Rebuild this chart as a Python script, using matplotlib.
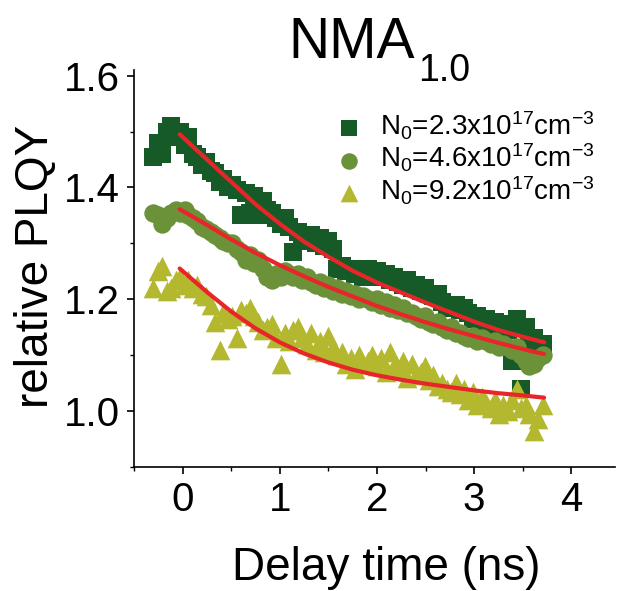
import matplotlib
matplotlib.use("Agg")
import matplotlib.pyplot as plt
from matplotlib.ticker import MultipleLocator

plt.rcParams['font.family'] = ['Liberation Sans', 'DejaVu Sans']
plt.rcParams['mathtext.fontset'] = 'custom'
plt.rcParams['mathtext.rm'] = 'Liberation Sans'
plt.rcParams['mathtext.it'] = 'Liberation Sans:italic'
plt.rcParams['mathtext.bf'] = 'Liberation Sans:bold'

# ---- data ----
time_ns = [-0.30, -0.25, -0.21, -0.16, -0.12, -0.07, -0.03, 0.02, 0.06, 0.11,
           0.15, 0.20, 0.24, 0.29, 0.33, 0.38, 0.42, 0.47, 0.51, 0.56,
           0.60, 0.65, 0.69, 0.74, 0.78, 0.83, 0.87, 0.92, 0.96, 1.01,
           1.05, 1.10, 1.14, 1.19, 1.23, 1.28, 1.32, 1.37, 1.41, 1.46,
           1.50, 1.55, 1.59, 1.64, 1.68, 1.73, 1.77, 1.82, 1.86, 1.91,
           1.95, 2.00, 2.04, 2.09, 2.13, 2.18, 2.22, 2.27, 2.31, 2.36,
           2.40, 2.45, 2.49, 2.54, 2.58, 2.63, 2.67, 2.72, 2.76, 2.81,
           2.85, 2.90, 2.94, 2.99, 3.03, 3.08, 3.12, 3.17, 3.21, 3.26,
           3.30, 3.35, 3.39, 3.44, 3.48, 3.53, 3.57, 3.62, 3.66, 3.71]

plqy_23 = [1.455, 1.480, 1.460, 1.500, 1.510, 1.490, 1.500, 1.475, 1.490, 1.460,
           1.455, 1.440, 1.445, 1.430, 1.425, 1.410, 1.415, 1.400, 1.405, 1.395,
           1.350, 1.390, 1.355, 1.385, 1.350, 1.375, 1.360, 1.355, 1.345, 1.335,
           1.345, 1.330, 1.285, 1.320, 1.310, 1.305, 1.315, 1.300, 1.310, 1.295,
           1.305, 1.290, 1.255, 1.260, 1.250, 1.255, 1.245, 1.250, 1.240, 1.255,
           1.245, 1.250, 1.240, 1.245, 1.235, 1.240, 1.230, 1.225, 1.235, 1.220,
           1.225, 1.215, 1.220, 1.210, 1.205, 1.210, 1.195, 1.190, 1.185, 1.190,
           1.180, 1.185, 1.175, 1.165, 1.170, 1.160, 1.165, 1.155, 1.160, 1.150,
           1.155, 1.145, 1.090, 1.165, 1.040, 1.150, 1.125, 1.130, 1.105, 1.120]

plqy_46 = [1.355, 1.350, 1.335, 1.345, 1.355, 1.360, 1.355, 1.360, 1.350, 1.345,
           1.340, 1.330, 1.325, 1.320, 1.315, 1.310, 1.305, 1.300, 1.300, 1.290,
           1.285, 1.270, 1.280, 1.265, 1.270, 1.255, 1.240, 1.235, 1.245, 1.240,
           1.250, 1.245, 1.240, 1.245, 1.235, 1.240, 1.230, 1.225, 1.230, 1.220,
           1.225, 1.215, 1.220, 1.210, 1.215, 1.205, 1.210, 1.200, 1.205, 1.200,
           1.195, 1.200, 1.190, 1.195, 1.185, 1.190, 1.180, 1.185, 1.175, 1.175,
           1.170, 1.165, 1.170, 1.160, 1.155, 1.160, 1.150, 1.145, 1.150, 1.140,
           1.140, 1.135, 1.130, 1.135, 1.125, 1.130, 1.125, 1.120, 1.125, 1.115,
           1.120, 1.115, 1.110, 1.115, 1.100, 1.090, 1.080, 1.085, 1.095, 1.100]

plqy_92 = [1.220, 1.250, 1.260, 1.215, 1.220, 1.235, 1.240, 1.225, 1.235, 1.220,
           1.225, 1.210, 1.205, 1.190, 1.160, 1.110, 1.175, 1.165, 1.170, 1.130,
           1.180, 1.175, 1.185, 1.170, 1.160, 1.145, 1.150, 1.155, 1.130, 1.085,
           1.140, 1.125, 1.145, 1.150, 1.130, 1.120, 1.140, 1.110, 1.125, 1.105,
           1.135, 1.115, 1.100, 1.105, 1.085, 1.095, 1.075, 1.100, 1.085, 1.090,
           1.100, 1.080, 1.095, 1.070, 1.105, 1.080, 1.075, 1.090, 1.060, 1.085,
           1.065, 1.070, 1.080, 1.055, 1.065, 1.045, 1.050, 1.040, 1.035, 1.050,
           1.030, 1.040, 1.020, 1.035, 1.010, 1.025, 1.015, 1.005, 1.020, 0.995,
           1.010, 1.000, 1.020, 1.040, 1.005, 1.010, 0.995, 0.965, 0.985, 1.010]

fit_time = [-0.03, 0.25, 0.5, 0.75, 1.0, 1.25, 1.5, 1.75, 2.0, 2.25,
            2.5, 2.75, 3.0, 3.25, 3.5, 3.72]
fit_23 = [1.495, 1.450, 1.410, 1.370, 1.335, 1.303, 1.276, 1.251, 1.230, 1.212,
          1.194, 1.177, 1.160, 1.145, 1.133, 1.123]
fit_46 = [1.361, 1.333, 1.307, 1.283, 1.261, 1.241, 1.222, 1.205, 1.188, 1.173,
          1.159, 1.146, 1.134, 1.122, 1.111, 1.102]
fit_92 = [1.255, 1.213, 1.178, 1.148, 1.123, 1.103, 1.087, 1.074, 1.064, 1.056,
          1.049, 1.043, 1.037, 1.032, 1.028, 1.024]

labels = [r'N$_0$=2.3x10$^{17}$cm$^{-3}$',
          r'N$_0$=4.6x10$^{17}$cm$^{-3}$',
          r'N$_0$=9.2x10$^{17}$cm$^{-3}$']
x_ticks = [0, 1, 2, 3, 4]
y_ticks = [1.0, 1.2, 1.4, 1.6]

# ---- figure ----
W, H = 619, 591
fig = plt.figure(figsize=(W / 100, H / 100), dpi=100)
ax = fig.add_axes([134 / W, 1 - 467 / H, (615 - 134) / W, (467 - 70) / H])

c_sq = '#165a28'
c_ci = '#6b9139'
c_tr = '#b4b82f'
c_fit = '#e8262a'

ax.scatter(time_ns, plqy_23, marker='s', s=150, color=c_sq, linewidths=0, label=labels[0], zorder=2)
ax.scatter(time_ns, plqy_46, marker='o', s=175, color=c_ci, linewidths=0, label=labels[1], zorder=2)
ax.scatter(time_ns, plqy_92, marker='^', s=200, color=c_tr, linewidths=0, label=labels[2], zorder=2)

for f in (fit_23, fit_46, fit_92):
    ax.plot(fit_time, f, color=c_fit, lw=3.0, solid_capstyle='round', zorder=3)

ax.set_xlim(-0.5, 4.45)
ax.set_ylim(0.9, 1.61)
ax.set_xticks(x_ticks)
ax.set_yticks(y_ticks)
ax.set_yticklabels([f'{v:.1f}' for v in y_ticks])
ax.xaxis.set_minor_locator(MultipleLocator(0.5))
ax.yaxis.set_minor_locator(MultipleLocator(0.1))

for s in ('top', 'right'):
    ax.spines[s].set_visible(False)
for s in ('left', 'bottom'):
    ax.spines[s].set_linewidth(1.2)

ax.tick_params(which='major', direction='out', length=5, width=1.2, labelsize=29, pad=5)
ax.tick_params(which='minor', direction='out', length=3, width=1.0)

ax.set_xlabel('Delay time (ns)', fontsize=33)
ax.set_ylabel('relative PLQY', fontsize=33)
ax.xaxis.set_label_coords(0.524, -0.20)
ax.yaxis.set_label_coords(-0.158, 0.505)

leg = ax.legend(loc='upper left', bbox_to_anchor=(318 / W, 1 - 96 / H),
                bbox_transform=fig.transFigure, frameon=False, fontsize=20,
                handletextpad=0.55, labelspacing=0.0, borderpad=0, handlelength=1.2,
                scatterpoints=1, markerscale=0.9)

fig.text(288 / W, 1 - 58 / H, 'NMA', fontsize=41, va='baseline', ha='left')
fig.text(418 / W, 1 - 81 / H, '1.0', fontsize=27, va='baseline', ha='left')

fig.savefig('out.png', dpi=100)
